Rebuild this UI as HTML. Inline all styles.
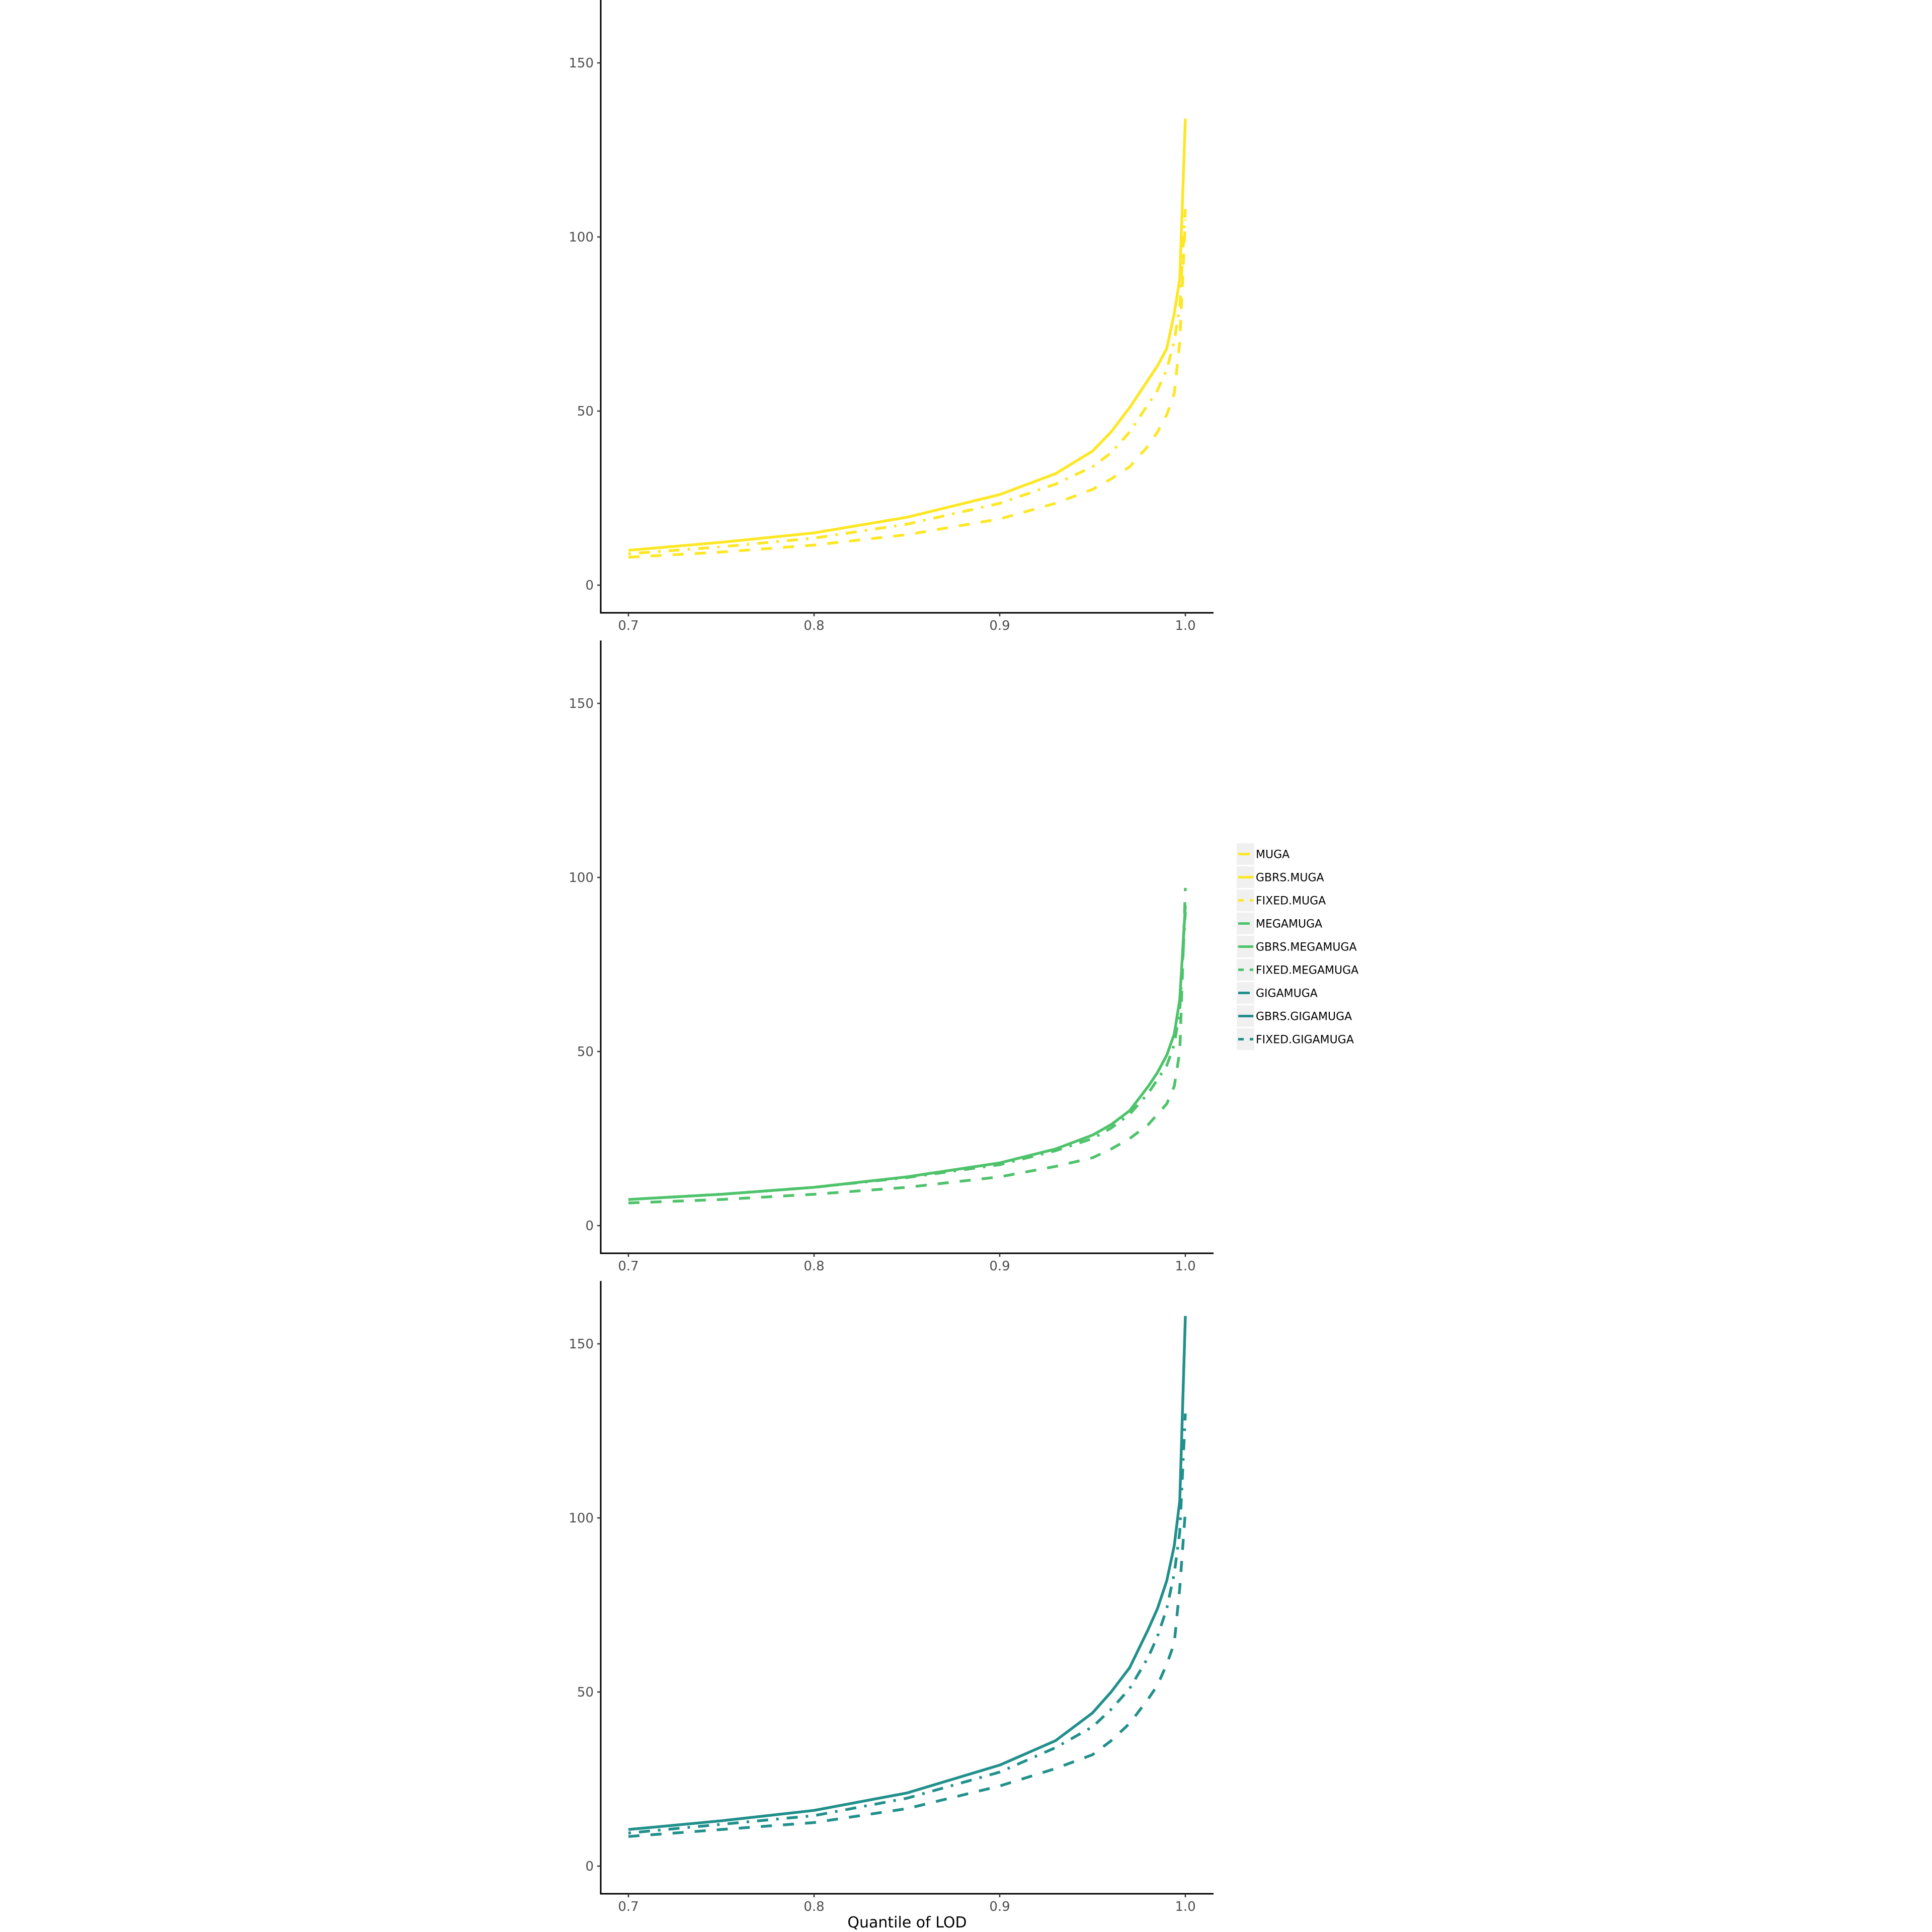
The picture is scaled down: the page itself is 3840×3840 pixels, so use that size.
<!DOCTYPE html>
<html><head><meta charset="utf-8"><style>
html,body{margin:0;padding:0;background:#fff;}
svg{display:block;font-family:"DejaVu Sans","Liberation Sans",sans-serif;}
</style></head><body>
<svg id="chart" width="3840" height="3840" viewBox="0 0 3840 3840" xmlns="http://www.w3.org/2000/svg">
<g id="panels"></g>
<text x="1803" y="3831" font-size="30" text-anchor="middle" fill="#000">Quantile of LOD</text>
<g id="legend"></g>
</svg>
<script>
const quantiles = [0.7,0.75,0.8,0.85,0.9,0.93,0.95,0.96,0.97,0.98,0.985,0.99,0.994,0.997,1.0];
const mugaGbrs  = [10,12.3,15,19.5,26,32,38.5,44,51,59,63,68,78,88,134];
const mugaBase  = [9,11,13.5,17.5,23.5,29,34,38,44,52,56,62,70,80,108];
const mugaFixed = [8,9.5,11.5,14.5,19,23.5,27.5,30.5,34,40,44,49,55,70,105];
const megaGbrs  = [7.5,9,11,14,18,22,26,29,33,40,44,49,55,65,92];
const megaBase  = [7.5,9,11,13.8,17.5,21.5,25,28,32,38,42,46,52,62,90];
const megaFixed = [6.5,7.5,9,11,14,17,19.5,22,25,29,32,35,40,50,97];
const gigaGbrs  = [10.5,13,16,21,29,36,44,50,57,68,74,82,92,105,158];
const gigaBase  = [9.5,12,14.5,19.5,27,34,40,45,51,60,66,74,84,96,130];
const gigaFixed = [8.5,10.5,12.5,16.5,23,28,32,36,41,48,52,58,64,80,102];
const xTicks = [0.7,0.8,0.9,1.0];
const xTickLabels = ["0.7","0.8","0.9","1.0"];
const yTicks = [0,50,100,150];
const seriesNames = ["MUGA","GBRS.MUGA","FIXED.MUGA","MEGAMUGA","GBRS.MEGAMUGA","FIXED.MEGAMUGA","GIGAMUGA","GBRS.GIGAMUGA","FIXED.GIGAMUGA"];

const NS="http://www.w3.org/2000/svg";
const colors=["#FDE725","#4EC36B","#21908C"];
const dashes={base:"5,16,22,16",gbrs:"none",fixed:"22,22"};
const panelsData=[
 {name:"muga",vals:{base:mugaBase,gbrs:mugaGbrs,fixed:mugaFixed}},
 {name:"megamuga",vals:{base:megaBase,gbrs:megaGbrs,fixed:megaFixed}},
 {name:"gigamuga",vals:{base:gigaBase,gbrs:gigaGbrs,fixed:gigaFixed}}
];
function xScale(q){return 1249+(q-0.7)/0.3*1107;}
function mk(tag,attrs,parent){const e=document.createElementNS(NS,tag);for(const k in attrs)e.setAttribute(k,attrs[k]);parent.appendChild(e);return e;}
const root=document.getElementById('panels');
panelsData.forEach((p,i)=>{
  const axisB=1218+i*1273, top=i===0?0:1273*i, zero=axisB-55;
  const yScale=v=>zero-v*6.92;
  const g=mk('g',{},root);
  
  
  ['base','gbrs','fixed'].forEach(k=>{
    const d=quantiles.map((q,j)=>(j?'L':'M')+xScale(q).toFixed(1)+','+yScale(p.vals[k][j]).toFixed(1)).join(' ');
    const path=mk('path',{d:d,fill:'none',stroke:colors[i],'stroke-width':5.5,'stroke-dasharray':dashes[k],'stroke-linejoin':'round'},g);
    
    
  });
  const ya=mk('line',{x1:1194,y1:top,x2:1194,y2:axisB+1.5,stroke:'#000','stroke-width':3},g);
  
  
  const xa=mk('line',{x1:1192.5,y1:axisB,x2:2412,y2:axisB,stroke:'#000','stroke-width':3},g);
  
  
  yTicks.forEach(t=>{
    const y=yScale(t);
    mk('line',{x1:1187,y1:y,x2:1194,y2:y,stroke:'#333','stroke-width':2.5},g);
    const tx=mk('text',{x:1180,y:y+9,'font-size':26,'text-anchor':'end',fill:'#4d4d4d'},g);
    tx.textContent=String(t);
    
    
  });
  xTicks.forEach((t,j)=>{
    const x=xScale(t);
    mk('line',{x1:x,y1:axisB,x2:x,y2:axisB+7,stroke:'#333','stroke-width':2.5},g);
    const tx=mk('text',{x:x,y:axisB+34,'font-size':26,'text-anchor':'middle',fill:'#4d4d4d'},g);
    tx.textContent=xTickLabels[j];
    
    
  });
});
const lg=document.getElementById('legend');
seriesNames.forEach((n,j)=>{
  const top=1676+j*46, cy=top+21.5, c=colors[Math.floor(j/3)], kind=j%3;
  const e=mk('g',{},lg);
  
  
  mk('rect',{x:2458,y:top,width:35,height:43,fill:'#f0f0f0'},e);
  if(kind===0) mk('line',{x1:2461,y1:cy,x2:2484,y2:cy,stroke:c,'stroke-width':5},e);
  else if(kind===1) mk('line',{x1:2461,y1:cy,x2:2491,y2:cy,stroke:c,'stroke-width':5},e);
  else {mk('line',{x1:2461,y1:cy,x2:2472,y2:cy,stroke:c,'stroke-width':5},e);mk('line',{x1:2484,y1:cy,x2:2491,y2:cy,stroke:c,'stroke-width':5},e);}
  const tx=mk('text',{x:2496,y:cy+8,'font-size':22,fill:'#000'},e);
  tx.textContent=n;
});
</script>
</body></html>
